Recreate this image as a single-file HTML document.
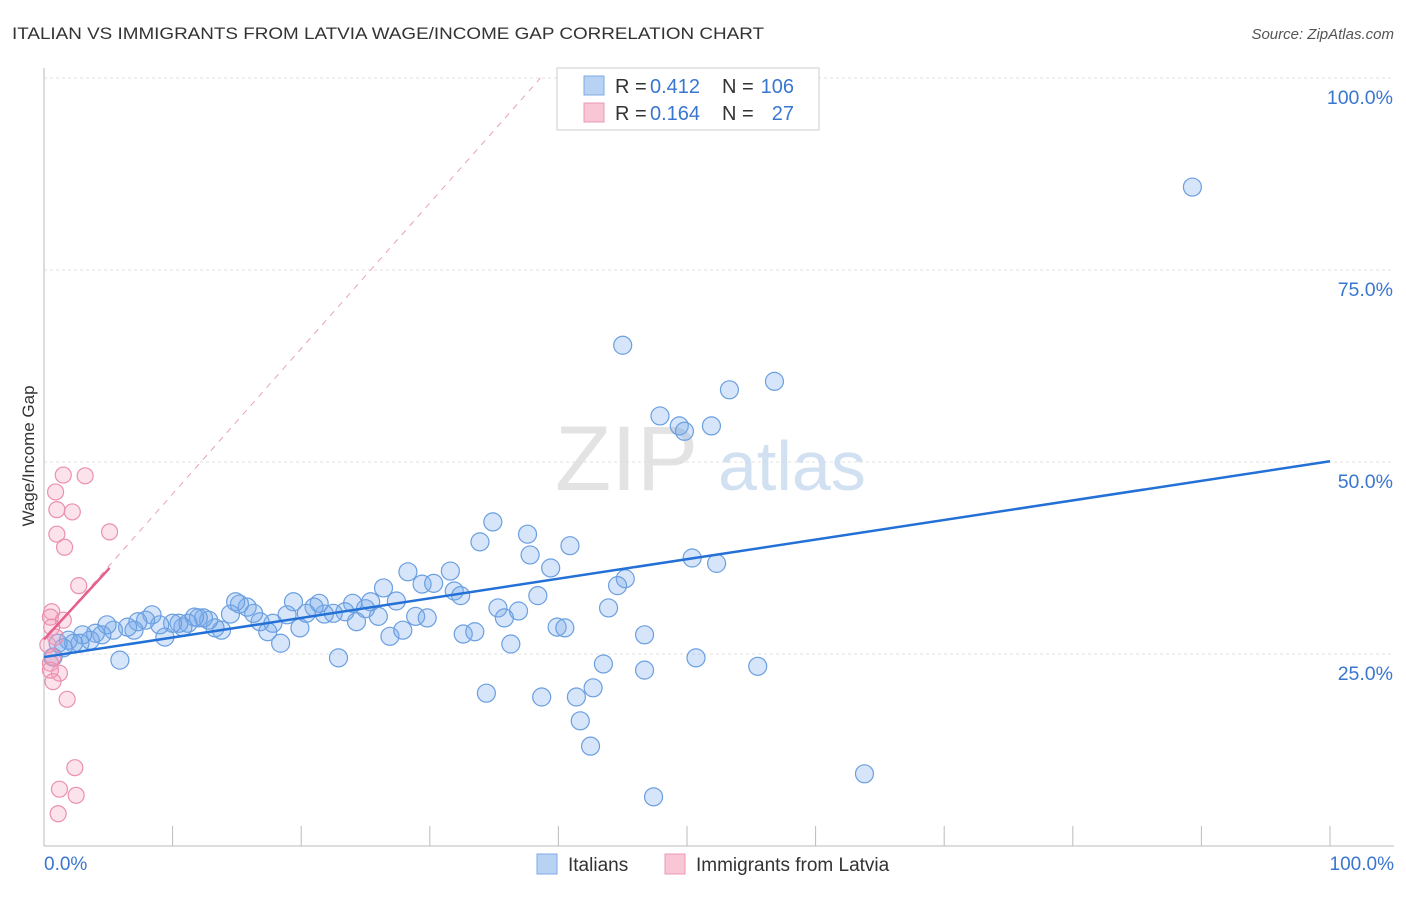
<!DOCTYPE html>
<html><head><meta charset="utf-8">
<style>
body{margin:0;background:#fff;font-family:"Liberation Sans",sans-serif;}
svg text{font-family:"Liberation Sans",sans-serif;}
</style></head>
<body>
<svg id="chart" width="1406" height="892" viewBox="0 0 1406 892" xmlns="http://www.w3.org/2000/svg">
<text x="12" y="39" font-size="17" fill="#333" textLength="752" lengthAdjust="spacingAndGlyphs">ITALIAN VS IMMIGRANTS FROM LATVIA WAGE/INCOME GAP CORRELATION CHART</text>
<text x="1394" y="39" font-size="15" fill="#555" text-anchor="end" font-style="italic">Source: ZipAtlas.com</text>
<g id="grid"></g>
<text x="555" y="490" font-size="92" fill="#ddd" font-family="Liberation Serif" opacity="0.8">ZIP</text>
<text x="718" y="490" font-size="70" fill="#c8daf0" opacity="0.8">atlas</text>
<line x1="44" y1="68" x2="44" y2="846" stroke="#bbb"/>
<line x1="44" y1="846" x2="1394" y2="846" stroke="#bbb"/>
<g id="ticks"></g>
<g id="ylabels"></g>
<text transform="translate(34,456) rotate(-90)" font-size="17" fill="#333" text-anchor="middle">Wage/Income Gap</text>
<text x="44" y="870" font-size="19" fill="#3a76d0">0.0%</text>
<text x="1394" y="870" font-size="19" fill="#3a76d0" text-anchor="end">100.0%</text>
<g id="marks"></g>
<g>
<rect x="557" y="68" width="262" height="62" fill="#fff" stroke="#ccc"/>
<rect x="584" y="76" width="20" height="19" fill="#b8d2f4" stroke="#7fa9e6"/>
<rect x="584" y="103" width="20" height="19" fill="#f9c6d5" stroke="#eb98b3"/>
<text x="615" y="93" font-size="20" fill="#333">R =</text>
<text x="650" y="93" font-size="20" fill="#3a76d0">0.412</text>
<text x="722" y="93" font-size="20" fill="#333">N =</text>
<text x="794" y="93" font-size="20" fill="#3a76d0" text-anchor="end">106</text>
<text x="615" y="120" font-size="20" fill="#333">R =</text>
<text x="650" y="120" font-size="20" fill="#3a76d0">0.164</text>
<text x="722" y="120" font-size="20" fill="#333">N =</text>
<text x="794" y="120" font-size="20" fill="#3a76d0" text-anchor="end">27</text>
</g>
<g>
<rect x="537" y="854" width="20" height="20" fill="#b8d2f4" stroke="#7fa9e6"/>
<text x="568" y="871" font-size="19" fill="#333">Italians</text>
<rect x="665" y="854" width="20" height="20" fill="#f9c6d5" stroke="#eb98b3"/>
<text x="696" y="871" font-size="19" fill="#333">Immigrants from Latvia</text>
</g>
</svg>
<script>
const yTicks=[25,50,75,100];
const yTickLabels=["25.0%","50.0%","75.0%","100.0%"];
const xTicks=[0,10,20,30,40,50,60,70,80,90,100];
const blueX=[89.3,45.0,56.8,53.3,47.9,49.4,49.8,51.9,34.9,37.6,33.9,40.9,37.8,39.4,50.4,52.3,45.2,44.6,28.3,31.6,29.4,30.3,31.9,32.4,38.4,35.3,36.9,35.8,43.9,32.6,33.5,39.9,40.5,46.7,36.3,43.5,46.7,50.7,55.5,34.4,38.7,41.4,42.7,41.7,42.5,63.8,47.4,
26.4,27.4,26.0,26.9,27.9,28.9,29.8,25.4,25.0,24.3,24.0,23.4,22.5,21.8,21.4,21.0,20.4,19.9,19.4,18.9,18.4,17.8,17.4,16.8,16.3,15.8,15.2,14.9,14.5,13.8,13.3,12.8,12.4,12.0,11.7,11.2,10.8,10.5,10.0,9.4,9.0,8.4,7.9,7.3,7.0,6.5,5.9,5.4,4.9,4.5,4.0,3.6,3.0,2.8,2.3,1.9,1.5,1.1,0.7,22.9];
const blueY=[85.8,65.2,60.5,59.4,56.0,54.7,54.0,54.7,42.2,40.6,39.6,39.1,37.9,36.2,37.5,36.8,34.8,33.9,35.7,35.8,34.1,34.2,33.2,32.6,32.6,31.0,30.6,29.7,31.0,27.6,27.9,28.5,28.4,27.5,26.3,23.7,22.9,24.5,23.4,19.9,19.4,19.4,20.6,16.3,13.0,9.4,6.4,
33.6,31.9,29.9,27.3,28.1,29.9,29.7,31.8,30.9,29.2,31.6,30.5,30.3,30.2,31.6,31.1,30.3,28.4,31.8,30.1,26.4,29.0,27.9,29.2,30.3,31.1,31.5,31.8,30.2,28.1,28.4,29.4,29.7,29.7,29.8,29.0,28.5,29.0,29.0,27.2,28.8,30.1,29.4,29.2,28.1,28.5,24.2,28.1,28.8,27.5,27.7,26.8,27.5,26.4,26.4,26.8,25.8,26.4,24.6,24.5];
const pinkX=[1.5,3.2,0.9,1.0,2.2,5.1,1.0,1.6,2.7,0.6,0.5,1.5,0.6,0.9,0.7,0.5,1.2,0.7,1.8,2.4,1.2,2.5,1.1,0.5,0.3];
const pinkY=[48.3,48.2,46.1,43.8,43.5,40.9,40.6,38.9,33.9,30.5,29.8,29.4,28.5,27.2,24.6,23.8,22.5,21.4,19.1,10.2,7.4,6.6,4.2,22.9,26.2];
const blueTrend=[[0,24.6],[100,50.1]];
const pinkTrend=[[0,26.9],[5.1,36.2]];
const pinkDash=[[0,26.9],[38.6,100]];
const NS="http://www.w3.org/2000/svg";
const X=v=>44+v*12.86, Y=v=>846-v*7.68;
function mk(tag,attrs,parent){const e=document.createElementNS(NS,tag);for(const k in attrs)e.setAttribute(k,attrs[k]);parent.appendChild(e);return e;}
const grid=document.getElementById('grid'),ticks=document.getElementById('ticks'),yl=document.getElementById('ylabels'),marks=document.getElementById('marks');
yTicks.forEach((t,i)=>{const l=mk('line',{x1:44,x2:1394,y1:Y(t),y2:Y(t),stroke:'#e2e2e2','stroke-dasharray':'3,3'},grid);


const tx=mk('text',{x:1393,y:Y(t)+26,'font-size':19.5,fill:'#3a76d0','text-anchor':'end'},yl);tx.textContent=yTickLabels[i];

});
xTicks.forEach(t=>{const l=mk('line',{x1:X(t),x2:X(t),y1:826,y2:846,stroke:'#bbb'},ticks);

});
const dl=mk('line',{x1:X(pinkDash[0][0]),y1:Y(pinkDash[0][1]),x2:X(pinkDash[1][0]),y2:Y(pinkDash[1][1]),stroke:'#e8a0b8','stroke-dasharray':'6,6','stroke-width':1},marks);


blueX.forEach((x,i)=>{const c=mk('circle',{cx:X(x),cy:Y(blueY[i]),r:9,fill:'rgba(120,170,235,0.3)',stroke:'#6a9fe0','stroke-width':1.2},marks);

});
pinkX.forEach((x,i)=>{const c=mk('circle',{cx:X(x),cy:Y(pinkY[i]),r:8,fill:'rgba(245,160,190,0.3)',stroke:'#ea90ae','stroke-width':1.2},marks);

});
const bt=mk('line',{x1:X(blueTrend[0][0]),y1:Y(blueTrend[0][1]),x2:X(blueTrend[1][0]),y2:Y(blueTrend[1][1]),stroke:'#2370d6','stroke-width':2.5},marks);


const pt=mk('line',{x1:X(pinkTrend[0][0]),y1:Y(pinkTrend[0][1]),x2:X(pinkTrend[1][0]),y2:Y(pinkTrend[1][1]),stroke:'#e5608a','stroke-width':2.5},marks);


</script>
</body></html>
